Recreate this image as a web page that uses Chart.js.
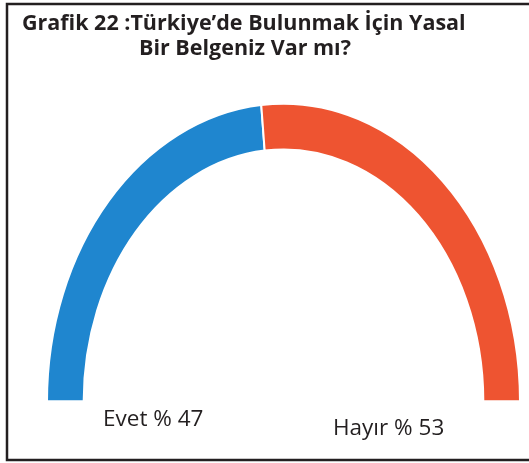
<!DOCTYPE html>
<html>
<head>
<meta charset="utf-8">
<script src="https://cdn.jsdelivr.net/npm/chart.js@4"></script>
<style>
    html, body { margin: 0; padding: 0; background: #fff; }
    #wrap { width: 529px; height: 463px; }
</style>
</head>
<body>
<div id="wrap"><canvas id="pieChart" width="529" height="463"></canvas></div>
<script>
        // Data
        const categories = ['Evet', 'Hayır'];
        const values = [47, 53];
        const colors = ['#1f86cf', '#ee5431'];
        const titleLines = ['Grafik 22 :Türkiye’de Bulunmak İçin Yasal', 'Bir Belgeniz Var mı?'];

        // the original arc is a bit taller than wide
        const stretchY = 1.26;

        const stretchPlugin = {
            id: 'stretch',
            beforeDatasetsDraw(chart) {
                const ctx = chart.ctx;
                const cy = chart.getDatasetMeta(0).data[0].y;
                ctx.save();
                ctx.translate(0, cy);
                ctx.scale(1, stretchY);
                ctx.translate(0, -cy);
            },
            afterDatasetsDraw(chart) {
                chart.ctx.restore();
            }
        };

        const textPlugin = {
            id: 'texts',
            afterDraw(chart) {
                const ctx = chart.ctx;
                ctx.save();
                // frame
                ctx.strokeStyle = '#231f20';
                ctx.lineWidth = 2.5;
                ctx.strokeRect(7, 4, 540, 456);

                // title
                ctx.fillStyle = '#231f20';
                ctx.textBaseline = 'alphabetic';
                ctx.textAlign = 'left';
                ctx.font = 'bold 21.5px "Open Sans"';
                ctx.fillText(titleLines[0], 22, 30);
                ctx.fillText(titleLines[1], 139, 55);

                // slice labels
                ctx.font = '22.5px "Open Sans"';
                ctx.fillText(categories[0] + ' % ' + values[0], 103, 426);
                ctx.fillText(categories[1] + ' % ' + values[1], 333, 435);
                ctx.restore();
            }
        };

        const ctx = document.getElementById('pieChart').getContext('2d');
        const pieChart = new Chart(ctx, {
            type: 'doughnut',
            data: {
                labels: categories,
                datasets: [{
                    data: values,
                    backgroundColor: colors,
                    borderColor: '#ffffff',
                    borderWidth: 2
                }]
            },
            options: {
                responsive: false,
                animation: false,
                rotation: -90,
                circumference: 180,
                cutout: '84.5%',
                layout: {
                    padding: { left: 45, right: 7, top: 164, bottom: 60.5 }
                },
                plugins: {
                    legend: { display: false },
                    title: { display: false },
                    tooltip: { enabled: false }
                }
            },
            plugins: [stretchPlugin, textPlugin]
        });
</script>
</body>
</html>
